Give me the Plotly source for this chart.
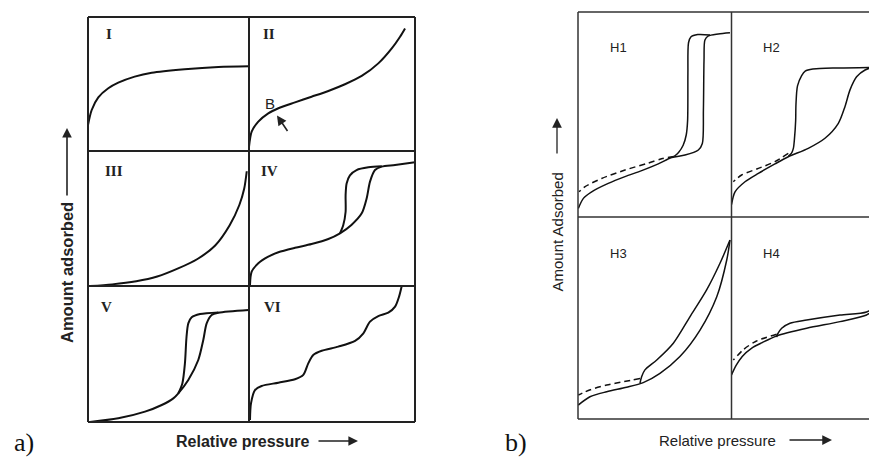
import plotly.graph_objects as go

# the page body adds an 8px margin, so the figure is drawn 8px in from the window corner
OFF = 8
WIN_W, WIN_H = 877, 457
W, H = WIN_W - OFF, WIN_H - OFF

# ---------------- data (each cell normalised: x = relative pressure 0..1, y = amount adsorbed 0..1) -------------
# a) IUPAC isotherm types
type1_x = [0.0, 0.023, 0.064, 0.126, 0.188, 0.29, 0.396, 0.60, 0.81, 1.0]
type1_y = [0.194, 0.306, 0.40, 0.468, 0.51, 0.555, 0.584, 0.61, 0.627, 0.632]

type2_x = [0.0, 0.016, 0.056, 0.116, 0.177, 0.277, 0.377, 0.478, 0.578, 0.679, 0.779, 0.86, 0.91, 0.94]
type2_y = [0.03, 0.144, 0.219, 0.281, 0.319, 0.363, 0.405, 0.448, 0.498, 0.56, 0.654, 0.766, 0.853, 0.915]

type3_x = [0.012, 0.15, 0.30, 0.43, 0.56, 0.68, 0.79, 0.88, 0.94, 0.97, 0.986]
type3_y = [0.0, 0.012, 0.035, 0.07, 0.13, 0.20, 0.30, 0.45, 0.60, 0.72, 0.85]

type4_ads_x = [0.006, 0.016, 0.056, 0.116, 0.177, 0.277, 0.377, 0.478, 0.548, 0.617, 0.679, 0.709, 0.729, 0.759, 0.799, 0.88, 1.0]
type4_ads_y = [0.007, 0.106, 0.168, 0.217, 0.25, 0.283, 0.311, 0.348, 0.39, 0.452, 0.538, 0.65, 0.773, 0.859, 0.884, 0.896, 0.916]
type4_des_x = [0.548, 0.568, 0.582, 0.582, 0.588, 0.608, 0.648, 0.719, 0.80]
type4_des_y = [0.39, 0.452, 0.55, 0.674, 0.76, 0.82, 0.859, 0.879, 0.887]

type5_ads_x = [0.012, 0.188, 0.354, 0.458, 0.53, 0.561, 0.623, 0.685, 0.716, 0.737, 0.768, 0.81, 0.997]
type5_ads_y = [0.0, 0.027, 0.076, 0.125, 0.174, 0.211, 0.309, 0.456, 0.603, 0.725, 0.787, 0.804, 0.824]
type5_des_x = [0.561, 0.586, 0.602, 0.612, 0.623, 0.644, 0.696, 0.81]
type5_des_y = [0.211, 0.284, 0.431, 0.627, 0.725, 0.77, 0.794, 0.806]

type6_x = [0.006, 0.012, 0.036, 0.076, 0.177, 0.277, 0.327, 0.357, 0.387, 0.438, 0.538, 0.639, 0.689, 0.729, 0.779, 0.839, 0.88, 0.904, 0.92]
type6_y = [0.015, 0.137, 0.235, 0.265, 0.289, 0.314, 0.346, 0.431, 0.493, 0.524, 0.554, 0.596, 0.652, 0.738, 0.779, 0.804, 0.848, 0.922, 1.0]

# b) hysteresis loop types
h1_ads_x = [0.002, 0.035, 0.089, 0.197, 0.306, 0.415, 0.523, 0.61, 0.697, 0.784, 0.81, 0.817, 0.821, 0.827, 0.849, 0.914, 0.99]
h1_ads_y = [0.042, 0.091, 0.123, 0.164, 0.197, 0.226, 0.259, 0.29, 0.302, 0.327, 0.359, 0.522, 0.766, 0.863, 0.883, 0.893, 0.899]
h1_des_x = [0.86, 0.78, 0.735, 0.72, 0.716, 0.714, 0.705, 0.685, 0.655, 0.625]
h1_des_y = [0.888, 0.89, 0.878, 0.85, 0.70, 0.47, 0.40, 0.35, 0.315, 0.295]
h1_ext_x = [0.625, 0.55, 0.458, 0.306, 0.154, 0.046, 0.007]
h1_ext_y = [0.295, 0.285, 0.263, 0.229, 0.188, 0.148, 0.123]

h2_ads_x = [0.0, 0.023, 0.088, 0.175, 0.283, 0.37, 0.50, 0.609, 0.696, 0.739, 0.772, 0.815, 0.87, 0.913, 1.0]
h2_ads_y = [0.06, 0.123, 0.172, 0.213, 0.259, 0.294, 0.335, 0.384, 0.457, 0.538, 0.62, 0.684, 0.717, 0.728, 0.73]
h2_des_x = [0.913, 0.70, 0.53, 0.48, 0.457, 0.43, 0.42, 0.418, 0.41, 0.403, 0.39, 0.37]
h2_des_y = [0.73, 0.727, 0.722, 0.712, 0.69, 0.64, 0.55, 0.47, 0.38, 0.335, 0.31, 0.296]
h2_ext_x = [0.37, 0.283, 0.175, 0.066, 0.012]
h2_ext_y = [0.31, 0.27, 0.237, 0.205, 0.172]

h3_ads_x = [0.002, 0.078, 0.187, 0.317, 0.425, 0.534, 0.664, 0.795, 0.904, 0.969, 0.99]
h3_ads_y = [0.069, 0.11, 0.135, 0.157, 0.18, 0.226, 0.309, 0.44, 0.605, 0.787, 0.886]
h3_des_x = [0.99, 0.925, 0.838, 0.73, 0.621, 0.513, 0.436, 0.415, 0.404]
h3_des_y = [0.886, 0.771, 0.639, 0.507, 0.375, 0.292, 0.243, 0.21, 0.178]
h3_ext_x = [0.404, 0.30, 0.187, 0.08, 0.002]
h3_ext_y = [0.2, 0.185, 0.168, 0.145, 0.119]

h4_ads_x = [0.0, 0.03, 0.07, 0.13, 0.2, 0.294, 0.49, 0.707, 0.88, 0.96]
h4_ads_y = [0.218, 0.265, 0.31, 0.35, 0.378, 0.411, 0.449, 0.482, 0.515, 0.555]
h4_des_x = [0.96, 0.88, 0.707, 0.49, 0.381, 0.327, 0.30, 0.294]
h4_des_y = [0.57, 0.53, 0.515, 0.49, 0.474, 0.449, 0.42, 0.405]
h4_ext_x = [0.294, 0.16, 0.08, 0.012]
h4_ext_y = [0.42, 0.385, 0.345, 0.292]

type_labels = ["I", "II", "III", "IV", "V", "VI"]
loop_labels = ["H1", "H2", "H3", "H4"]

# ---------------- layout geometry (window pixels) ----------------
A_X = [88, 249, 415]
A_Y = [17, 151, 286, 422]
B_X = [578, 731.5, 885]
B_Y = [12, 217, 419]
RIGHT_LIMIT = OFF + W   # last window pixel the figure covers


def px(x):
    return (x - OFF) / W


def py(y):
    return 1 - (y - OFF) / H


cells = []
for r in range(3):
    for c in range(2):
        cells.append((A_X[c], A_X[c + 1], A_Y[r], A_Y[r + 1]))
for r in range(2):
    for c in range(2):
        cells.append((B_X[c], B_X[c + 1], B_Y[r], B_Y[r + 1]))

curves = [
    [("s", type1_x, type1_y)],
    [("s", type2_x, type2_y)],
    [("s", type3_x, type3_y)],
    [("s", type4_ads_x, type4_ads_y), ("s", type4_des_x, type4_des_y)],
    [("s", type5_ads_x, type5_ads_y), ("s", type5_des_x, type5_des_y)],
    [("s", type6_x, type6_y)],
    [("s", h1_ads_x, h1_ads_y), ("s", h1_des_x, h1_des_y), ("d", h1_ext_x, h1_ext_y)],
    [("s", h2_ads_x, h2_ads_y), ("s", h2_des_x, h2_des_y), ("d", h2_ext_x, h2_ext_y)],
    [("s", h3_ads_x, h3_ads_y), ("s", h3_des_x, h3_des_y), ("d", h3_ext_x, h3_ext_y)],
    [("s", h4_ads_x, h4_ads_y), ("s", h4_des_x, h4_des_y), ("d", h4_ext_x, h4_ext_y)],
]

fig = go.Figure()
layout = dict(
    width=W, height=H, margin=dict(l=0, r=0, t=0, b=0),
    paper_bgcolor="white", plot_bgcolor="rgba(0,0,0,0)", showlegend=False,
)

for i, (l, r, t, b) in enumerate(cells):
    n = "" if i == 0 else str(i + 1)
    vis_r = min(r, RIGHT_LIMIT)
    xr = [0, (vis_r - l) / (r - l)]
    layout["xaxis" + n] = dict(domain=[px(l), px(vis_r)], range=xr, visible=False, fixedrange=True,
                               anchor="y" + n)
    layout["yaxis" + n] = dict(domain=[py(b), py(t)], range=[0, 1], visible=False, fixedrange=True,
                               anchor="x" + n)
    lw = 2.0 if i < 6 else 1.5
    for style, xs, ys in curves[i]:
        fig.add_trace(go.Scatter(
            x=xs, y=ys, mode="lines", xaxis="x" + n, yaxis="y" + n, hoverinfo="skip",
            line=dict(color="#111111", width=lw, shape="spline", smoothing=0.8,
                      dash="solid" if style == "s" else "6px,4px"),
        ))


def seg(x0, y0, x1, y1, color, width):
    return dict(type="line", xref="paper", yref="paper", x0=px(x0), x1=px(x1), y0=py(y0), y1=py(y1),
                line=dict(color=color, width=width))


shapes = []
# panel a frame
for xx in A_X:
    shapes.append(seg(xx, A_Y[0], xx, A_Y[3], "#222222", 2))
for yy in A_Y:
    shapes.append(seg(A_X[0], yy, A_X[2], yy, "#222222", 2))
# panel b frame (its right edge falls outside the window)
bx_end = min(B_X[2], RIGHT_LIMIT)
for xx in B_X[:2]:
    shapes.append(seg(xx, B_Y[0], xx, B_Y[2], "#333333", 1.5))
for yy in B_Y:
    shapes.append(seg(B_X[0], yy, bx_end, yy, "#333333", 1.5))
layout["shapes"] = shapes

ann = []
serif = "Liberation Serif, Times New Roman, serif"
sans = "Liberation Sans, Arial, sans-serif"
label_pos_a = [(109, 34.5), (269, 34.5), (113.5, 171), (269.5, 171), (106.5, 306.5), (272, 306.5)]
for txt, (x, y) in zip(type_labels, label_pos_a):
    ann.append(dict(text="<b>%s</b>" % txt, x=px(x), y=py(y), xref="paper", yref="paper", showarrow=False,
                    xanchor="center", yanchor="middle", font=dict(family=serif, size=15, color="#222222")))
label_pos_b = [(618, 47.5), (771, 47.5), (618, 253.5), (771, 253.5)]
for txt, (x, y) in zip(loop_labels, label_pos_b):
    ann.append(dict(text=txt, x=px(x), y=py(y), xref="paper", yref="paper", showarrow=False,
                    xanchor="center", yanchor="middle", font=dict(family=sans, size=13, color="#222222")))

# point B and its arrow
ann.append(dict(text="B", x=px(270), y=py(104), xref="paper", yref="paper", showarrow=False,
                xanchor="center", yanchor="middle", font=dict(family=sans, size=15, color="#222222")))
ann.append(dict(text="", x=px(277), y=py(115.5), xref="paper", yref="paper", showarrow=True,
                ax=11.5, ay=17, arrowhead=2, arrowsize=1.2, arrowwidth=1.6, arrowcolor="#222222"))

# axis titles a)
ann.append(dict(text="<b>Amount adsorbed</b>", x=px(66.5), y=py(272.5), xref="paper", yref="paper", showarrow=False,
                textangle=-90, xanchor="center", yanchor="middle", font=dict(family=sans, size=16.5, color="#222222")))
ann.append(dict(text="", x=px(67), y=py(128), xref="paper", yref="paper", showarrow=True,
                ax=0, ay=69, arrowhead=2, arrowsize=1.2, arrowwidth=1.6, arrowcolor="#222222"))
ann.append(dict(text="<b>Relative pressure</b>", x=px(242.5), y=py(441), xref="paper", yref="paper", showarrow=False,
                xanchor="center", yanchor="middle", font=dict(family=sans, size=16, color="#222222")))
ann.append(dict(text="", x=px(358), y=py(441), xref="paper", yref="paper", showarrow=True,
                ax=-41, ay=0, arrowhead=2, arrowsize=1.2, arrowwidth=1.6, arrowcolor="#222222"))

# axis titles b)
ann.append(dict(text="Amount Adsorbed", x=px(557), y=py(232.5), xref="paper", yref="paper", showarrow=False,
                textangle=-90, xanchor="center", yanchor="middle", font=dict(family=sans, size=15, color="#222222")))
ann.append(dict(text="", x=px(557), y=py(118), xref="paper", yref="paper", showarrow=True,
                ax=0, ay=37, arrowhead=2, arrowsize=1.5, arrowwidth=1.3, arrowcolor="#222222"))
ann.append(dict(text="Relative pressure", x=px(717), y=py(440), xref="paper", yref="paper", showarrow=False,
                xanchor="center", yanchor="middle", font=dict(family=sans, size=15, color="#222222")))
ann.append(dict(text="", x=px(832), y=py(440), xref="paper", yref="paper", showarrow=True,
                ax=-44, ay=0, arrowhead=2, arrowsize=1.5, arrowwidth=1.3, arrowcolor="#222222"))

# panel letters
ann.append(dict(text="a)", x=px(24), y=py(442), xref="paper", yref="paper", showarrow=False,
                xanchor="center", yanchor="middle", font=dict(family=serif, size=26, color="#111111")))
ann.append(dict(text="b)", x=px(516), y=py(442), xref="paper", yref="paper", showarrow=False,
                xanchor="center", yanchor="middle", font=dict(family=serif, size=26, color="#111111")))

layout["annotations"] = ann
fig.update_layout(**layout)
fig.write_html("out.html")
